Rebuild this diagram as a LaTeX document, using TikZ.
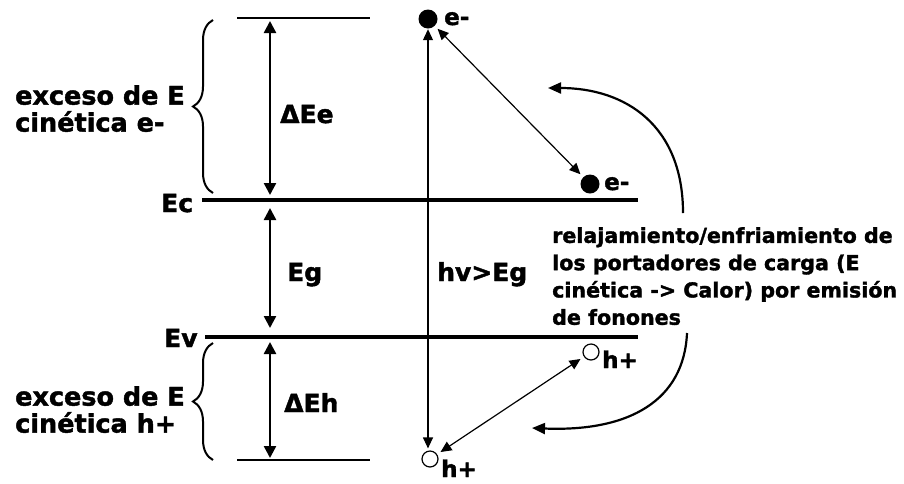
\documentclass[tikz,border=0pt]{standalone}
\usepackage{fontspec}
\setmainfont{DejaVu Sans}[BoldFeatures={FakeBold=1.6}]
\usetikzlibrary{arrows.meta,decorations.pathreplacing}
\begin{document}
\begin{tikzpicture}[x=1pt,y=-1pt,
  lbl/.style={font=\fontsize{25}{27}\selectfont\bfseries, inner sep=0pt, anchor=base west},
  sml/.style={font=\fontsize{23}{24}\selectfont\bfseries, inner sep=0pt, anchor=base west},
  para/.style={font=\fontsize{20.6}{27.3}\selectfont\bfseries, inner sep=0pt, anchor=north west, align=left},
  twol/.style={font=\fontsize{25.5}{27}\selectfont\bfseries, inner sep=0pt, anchor=north west, align=left},
  band/.style={line width=4pt},
  lvl/.style={line width=1.5pt},
  darr/.style={line width=2.5pt, {Triangle[length=12pt,width=12pt]}-{Triangle[length=12pt,width=12pt]}},
  tarr/.style={line width=1.2pt, {Triangle[length=11pt,width=10pt]}-{Triangle[length=11pt,width=10pt]}},
  carr/.style={line width=2.2pt, -{Triangle[length=13pt,width=11pt]}},
  brc/.style={line width=2pt, decorate, decoration={brace, amplitude=20pt}},
  elec/.style={circle, fill=black, minimum size=19pt, inner sep=0pt},
  hole/.style={circle, draw, line width=1.2pt, minimum size=16pt, inner sep=0pt},
]
\useasboundingbox (0,0) rectangle (904,483);

% levels
\coordinate (ecL) at (202,200); \coordinate (ecR) at (638,200);
\coordinate (evL) at (205,337); \coordinate (evR) at (638,337);
\coordinate (tL) at (237,18);  \coordinate (tR) at (370,18);
\coordinate (bL) at (237,460); \coordinate (bR) at (370,460);
\draw[band] (ecL) -- (ecR);
\draw[band] (evL) -- (evR);
\draw[lvl] (tL) -- (tR);
\draw[lvl] (bL) -- (bR);

\node[lbl] (ec) at (161,212) {Ec};
\node[lbl] (ev) at (164,347) {Ev};

% vertical energy arrows
\coordinate (a1) at (270,18);
\coordinate (a2) at (270,200);
\coordinate (a3) at (270,337);
\coordinate (a4) at (270,460);
\draw[darr, shorten <=3pt, shorten >=5pt] (a1) -- (a2);
\draw[darr, shorten <=8pt, shorten >=9pt] (a2) -- (a3);
\draw[darr, shorten <=5pt, shorten >=2pt] (a3) -- (a4);
\node[lbl] (dee) at (280,123) {ΔEe};
\node[lbl] (eg) at (287,281) {Eg};
\node[lbl] (deh) at (284,412) {ΔEh};

% braces
\coordinate (b1) at (213,193); \coordinate (b2) at (213,20);
\coordinate (b3) at (213,460); \coordinate (b4) at (213,343);
\draw[brc] (b1) -- (b2);
\draw[brc] (b3) -- (b4);
\node[twol] (exe) at (15,85) {exceso de E\\cinética e-};
\node[twol] (exh) at (15,386) {exceso de E\\cinética h+};

% carriers
\node[elec] (e1) at (428,19) {};
\node[elec] (e2) at (590,184) {};
\node[hole] (h1) at (591,352) {};
\node[hole] (h2) at (430,459) {};
\node[sml] (le1) at (444,25) {e-};
\node[sml] (le2) at (604,190) {e-};
\node[sml] (lh1) at (602,368) {h+};
\node[sml] (lh2) at (441,477) {h+};

% photon excitation
\draw[tarr, shorten <=0.5pt, shorten >=2pt] (e1.south) -- (e1.south |- h2.north);
\node[lbl] (hv) at (437,281) {hv>Eg};

% thermalisation
\draw[tarr, shorten <=4pt, shorten >=4pt] (e1) -- (e2);
\draw[tarr, shorten <=4pt, shorten >=4pt] (h1) -- (h2);

% curved arrows
\coordinate (c1) at (683,213); \coordinate (c2) at (548,88);
\coordinate (c3) at (687,333); \coordinate (c4) at (532,428);
\draw[carr] (c1) .. controls (683,125) and (625,88) .. (c2);
\draw[carr] (c3) .. controls (684,400) and (630,432) .. (c4);

\node[para] (rel) at (552,227) {relajamiento/enfriamiento de\\los portadores de carga (E\\cinética -> Calor) por emisión\\de fonones};
\end{tikzpicture}
\end{document}
